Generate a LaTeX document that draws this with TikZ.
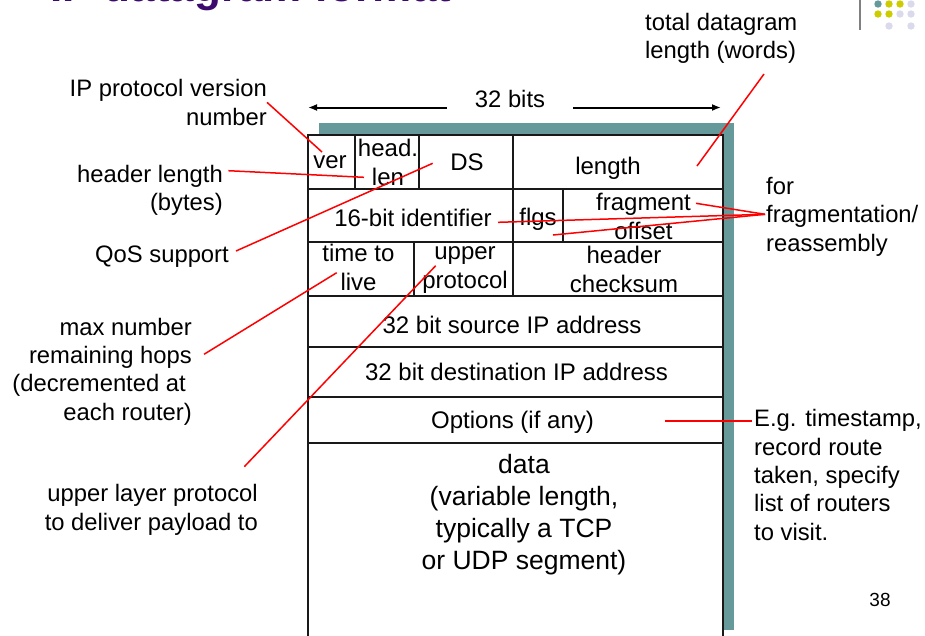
\documentclass[tikz,border=0pt]{standalone}
\usepackage{fontspec}
\setmainfont{Liberation Sans}
\usepackage{xcolor}
\usepackage{tikz}
\usetikzlibrary{arrows.meta}
\definecolor{shadowteal}{RGB}{102,153,153}
\definecolor{titlepurple}{RGB}{60,10,110}
\definecolor{dotyellow}{RGB}{204,204,0}
\definecolor{dotlav}{RGB}{218,218,236}
\tikzset{lbl/.style={inner sep=0pt, font=\fontsize{23.8}{28.3}\selectfont}}
\tikzset{fieldtext/.style={inner sep=0pt, align=center, anchor=base, font=\fontsize{24}{28.5}\selectfont}}
\tikzset{datatext/.style={fieldtext, font=\fontsize{26.5}{31.8}\selectfont}}
\tikzset{fieldline/.style={line width=2pt, black!90}}
\tikzset{pointer/.style={red, line width=1.5pt}}
\tikzset{bitarrow/.style={-{Latex[length=9pt,width=7pt]}, line width=2pt}}

\begin{document}
\begin{tikzpicture}[x=1pt,y=-1pt]
\useasboundingbox (0,0) rectangle (925,635);
\clip (0,0) rectangle (925,635);
\node[anchor=base west, inner sep=0pt, text=titlepurple, font=\fontsize{44}{50}\selectfont\bfseries] (title) at (50,1.5) {IP datagram format};
\draw[gray, line width=2pt] (860,0) -- (860,30);
\fill[shadowteal] (878,4) circle (3.7);
\fill[dotyellow] (889,4) circle (3.7);
\fill[dotyellow] (900,4) circle (3.7);
\fill[dotlav] (911,4) circle (3.7);
\fill[dotyellow] (878,14) circle (3.7);
\fill[dotyellow] (889,14) circle (3.7);
\fill[dotlav] (900,14) circle (3.7);
\fill[dotlav] (911,14) circle (3.7);
\fill[dotlav] (889,26) circle (3.7);
\fill[dotlav] (911,26) circle (3.7);

\fill[shadowteal] (319,123) rectangle (734,630);
\draw[fieldline, fill=white] (308,135) rectangle (723,660);
\foreach \y in {189,242,296,347,397,443}
  \draw[fieldline] (308,\y) -- (723,\y);
\draw[fieldline] (355,135) -- (355,189);
\draw[fieldline] (419,135) -- (419,189);
\draw[fieldline] (513,135) -- (513,296);
\draw[fieldline] (563,189) -- (563,242);
\draw[fieldline] (414,242) -- (414,296);

\node[fieldtext] (ver) at (330,168.3) {ver};
\node[fieldtext] (hlen) at (388,185) {head.\\len};
\node[fieldtext] (ds) at (467,170) {DS};
\node[fieldtext] (len) at (608,174.3) {length};
\node[fieldtext] (ident) at (413,226.7) {16-bit identifier};
\node[fieldtext] (flgs) at (538,225) {flgs};
\node[fieldtext] (frag) at (643.5,239.3) {fragment\\offset};
\node[fieldtext] (ttl) at (358.5,290) {time to\\live};
\node[fieldtext] (proto) at (465,288.3) {upper\\protocol};
\node[fieldtext] (csum) at (624,292.3) {header\\checksum};
\node[fieldtext] (src) at (512,333.3) {32 bit source IP address};
\node[fieldtext] (dst) at (516.5,380) {32 bit destination IP address};
\node[fieldtext] (opts) at (512.5,428.3) {Options (if any)};
\node[datatext] (data) at (524,569.3) {data\\(variable length,\\typically a TCP\\or UDP segment)};

\node[lbl, anchor=base, inner xsep=28pt] (bits) at (510,107.5) {32 bits};
\coordinate (bitsL) at (308,107.5);
\coordinate (bitsR) at (721,107.5);
\draw[bitarrow] (bits.base west) -- (bitsL);
\draw[bitarrow] (bits.base east) -- (bitsR);

\node[lbl, align=right, anchor=base east] (lblver) at (267,125) {IP protocol version\\number};
\node[lbl, align=right, anchor=base east] (lblhl) at (223,210.7) {header length\\(bytes)};
\node[lbl, anchor=base east] (lblqos) at (229,262) {QoS support};
\node[lbl, align=right, anchor=base east] (lblttl) at (192,420) {max number\\remaining hops\\(decremented at\kern6pt\\each router)};
\node[lbl, align=right, anchor=base east] (lblproto) at (258,530) {upper layer protocol\\to deliver payload to};
\node[lbl, align=left, anchor=base west] (lbltot) at (645,58.3) {total datagram\\length (words)};
\node[lbl, align=left, anchor=base west] (lblfrag) at (766,251) {for\\fragmentation/\\reassembly};
\node[lbl, align=left, anchor=base west] (lblopts) at (754,540) {E.g. timestamp,\\record route\\taken, specify\\list of routers\\to visit.};
\node[inner sep=0pt, anchor=base, font=\fontsize{19}{23}\selectfont] (pageno) at (880,606.7) {38};

\coordinate (sHl) at (228.3,170.7);
\coordinate (sQos) at (236,251);
\coordinate (sTtl) at (204,354.3);
\coordinate (sProto) at (244.3,466.7);
\coordinate (sTot) at (764,74);
\coordinate (sFrag) at (765,214.3);
\coordinate (sOpt) at (752,421);
\coordinate (pVer) at (322,152);
\coordinate (pHl) at (364,177.3);
\coordinate (pDs) at (432.7,163.3);
\coordinate (pLen) at (697,166);
\coordinate (pFrag) at (696,203.3);
\coordinate (pId) at (498,222.3);
\coordinate (pFlg) at (553,235);
\coordinate (pTtl) at (336.7,272.7);
\coordinate (pProto) at (435.7,265.7);
\coordinate (pOpt) at (665,421);

\draw[pointer] (lblver.east) -- (pVer);
\draw[pointer] (sHl) -- (pHl);
\draw[pointer] (sQos) -- (pDs);
\draw[pointer] (sTot) -- (pLen);
\draw[pointer] (sFrag) -- (pFrag);
\draw[pointer] (sFrag) -- (pId);
\draw[pointer] (sFrag) -- (pFlg);
\draw[pointer] (sTtl) -- (pTtl);
\draw[pointer] (sProto) -- (pProto);
\draw[pointer] (sOpt) -- (pOpt);
\end{tikzpicture}
\end{document}
